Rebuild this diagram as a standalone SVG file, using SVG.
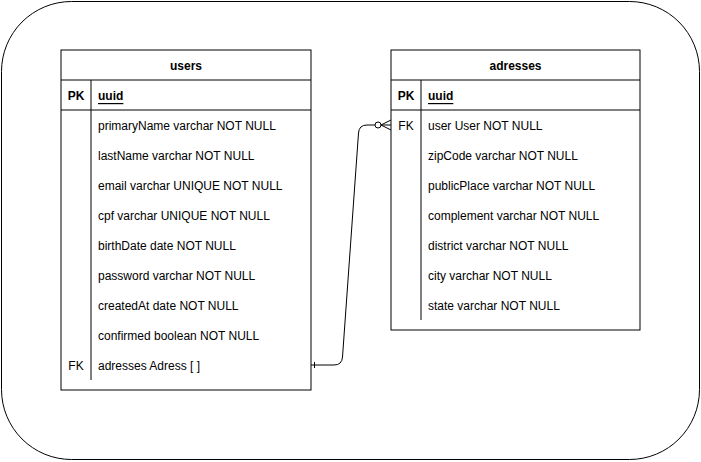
<svg xmlns="http://www.w3.org/2000/svg" width="701" height="462" viewBox="0 0 701 462">
<style>
.box{fill:#fff;stroke:#000;stroke-width:1}
.ln{stroke:#000;stroke-width:1;fill:none}
.t{font-family:"Liberation Sans",Arial,sans-serif;font-size:12px;fill:#000;dominant-baseline:central}
.b{font-weight:bold}
.h{font-weight:bold;text-anchor:middle}
.k{text-anchor:middle}
.u{font-weight:bold;text-decoration:underline}
</style>
<rect x="1.5" y="1.5" width="698" height="458" rx="70" ry="70" fill="#fff" stroke="#000" stroke-width="1"/>
<g id="users">
<rect class="box" x="61" y="50" width="250" height="340"/>
<line class="ln" x1="61" y1="80" x2="311" y2="80"/>
<line class="ln" x1="61" y1="110" x2="311" y2="110"/>
<line class="ln" x1="91" y1="80" x2="91" y2="380"/>
<text class="t h" x="186" y="66">users</text>
<text class="t h" x="76" y="96">PK</text>
<text class="t u" x="98" y="96">uuid</text>
<text class="t" x="98" y="126">primaryName varchar NOT NULL</text>
<text class="t" x="98" y="156">lastName varchar NOT NULL</text>
<text class="t" x="98" y="186">email varchar UNIQUE NOT NULL</text>
<text class="t" x="98" y="216">cpf varchar UNIQUE NOT NULL</text>
<text class="t" x="98" y="246">birthDate date NOT NULL</text>
<text class="t" x="98" y="276">password varchar NOT NULL</text>
<text class="t" x="98" y="306">createdAt date NOT NULL</text>
<text class="t" x="98" y="336">confirmed boolean NOT NULL</text>
<text class="t k" x="76" y="366">FK</text>
<text class="t" x="98" y="366">adresses Adress [ ]</text>
</g>
<g id="adresses">
<rect class="box" x="391" y="50" width="249" height="280"/>
<line class="ln" x1="391" y1="80" x2="640" y2="80"/>
<line class="ln" x1="391" y1="110" x2="640" y2="110"/>
<line class="ln" x1="421" y1="80" x2="421" y2="320"/>
<text class="t h" x="515.5" y="66">adresses</text>
<text class="t h" x="406" y="96">PK</text>
<text class="t u" x="428" y="96">uuid</text>
<text class="t k" x="406" y="126">FK</text>
<text class="t" x="428" y="126">user User NOT NULL</text>
<text class="t" x="428" y="156">zipCode varchar NOT NULL</text>
<text class="t" x="428" y="186">publicPlace varchar NOT NULL</text>
<text class="t" x="428" y="216">complement varchar NOT NULL</text>
<text class="t" x="428" y="246">district varchar NOT NULL</text>
<text class="t" x="428" y="276">city varchar NOT NULL</text>
<text class="t" x="428" y="306">state varchar NOT NULL</text>
</g>
<g id="connectors">
<path class="ln" d="M311,365 L334,365 Q342,365 342.5,357 L358.5,133 Q359,125 367,125 L375,125"/>
<line class="ln" x1="314.5" y1="362" x2="314.5" y2="368"/>
<circle cx="378" cy="125" r="3" fill="#fff" stroke="#000" stroke-width="1"/>
<path class="ln" d="M381,125 L391,120 M381,125 L391,130 M381,125 L391,125"/>
</g>
</svg>
